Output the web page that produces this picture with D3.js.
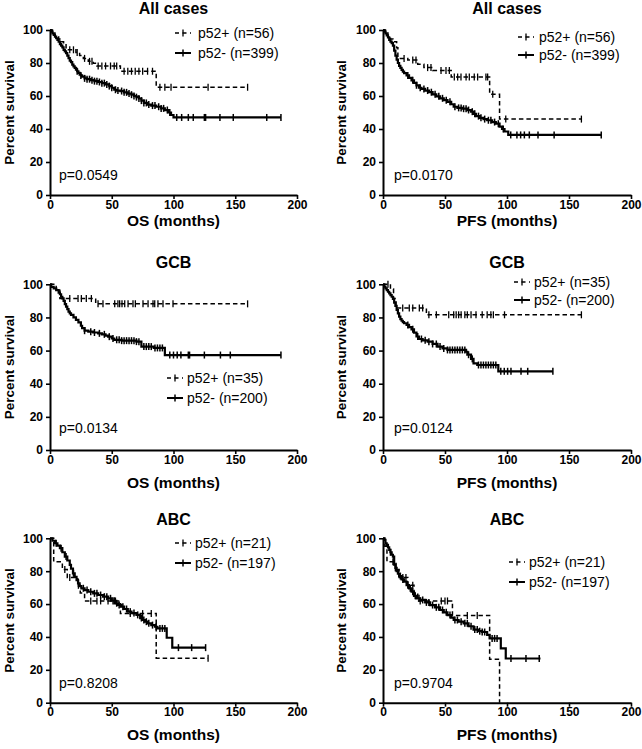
<!DOCTYPE html>
<html><head><meta charset="utf-8">
<script src="https://cdn.jsdelivr.net/npm/d3@7"></script>
<style>
body{margin:0;background:#fff}
text{font-family:"Liberation Sans",Arial,Helvetica,sans-serif;fill:#000}
</style>
</head><body>
<svg id="chart" width="642" height="749"></svg>
<script>
// ---------- DATA ----------
const xTicks = [0, 50, 100, 150, 200];
const yTicks = [0, 20, 40, 60, 80, 100];
const titles = ["All cases", "All cases", "GCB", "GCB", "ABC", "ABC"];
const xLabels = ["OS (months)", "PFS (months)", "OS (months)", "PFS (months)", "OS (months)", "PFS (months)"];
const yLabel = "Percent survival";
const pValues = ["p=0.0549", "p=0.0170", "p=0.0134", "p=0.0124", "p=0.8208", "p=0.9704"];
const legendPos = ["p52+ (n=56)", "p52+ (n=56)", "p52+ (n=35)", "p52+ (n=35)", "p52+ (n=21)", "p52+ (n=21)"];
const legendNeg = ["p52- (n=399)", "p52- (n=399)", "p52- (n=200)", "p52- (n=200)", "p52- (n=197)", "p52- (n=197)"];

// Kaplan-Meier steps [month, percent] ; end = last follow-up ; censored times
const osAllPos = [[0,100],[2,98.2],[4,96.4],[7,94.6],[9,92.9],[11,91.1],[13,89.3],[14,88],[21,86.3],[24,84.6],[27,82.8],[31,81],[35,79.8],[38,78.2],[57,75],[86,65.3]];
const osAllPosEnd = 160;
const osAllPosCens = [16,19,22,28,32,34,39,42,45,49,52,54,60,63,66,69,72,75,79,83,89,93,98,128,160];
const osAllNeg = [[0,100],[1,99],[2,98],[3,97],[4,96],[5,95],[6,94],[7,93],[8,91.5],[9,90.5],[10,89.5],[11,88],[12,87],[13,86],[14,84.5],[15,83],[16,81.5],[17,80.5],[18,79],[19,78],[20,77],[21,76],[22,75],[23,74],[24,73],[25,72.5],[26,71.8],[28,70.7],[30,70.2],[33,69.6],[36,69],[39,68.5],[42,67.8],[45,67],[48,66],[50,65],[52,63.8],[54,63.3],[57,63],[60,62.2],[63,61.5],[66,60.8],[68,60],[70,59.3],[72,58.5],[74,57.2],[76,55.8],[79,54.8],[82,54.2],[86,53.5],[90,52.5],[93,51.5],[96,50],[98,48.5],[100,47]];
const osAllNegEnd = 187;
const osAllNegCens = [22,25,28,30,32,34,36,38,40,42,44,46,48,50,53,55,58,60,62,64,66,68,70,72,74,76,78,80,83,85,88,90,92,95,97,102.6,106.6,112,116,125,126,137.6,148.4,175.5,187];

const pfsAllPos = [[0,100],[2,98.2],[4,96.4],[6,94.6],[8,92.9],[11,89.3],[12,82.8],[20,81.8],[28,79.2],[33,77.2],[40,75.5],[55,71.5],[86,61],[94,46]];
const pfsAllPosEnd = 160;
const pfsAllPosCens = [17,24,26.6,36,38.7,46.8,50.8,53.5,57.5,60.2,62.9,67,69.6,73.6,76.3,83,84.4,88.5,99,160];
const pfsAllNeg = [[0,100],[1,99],[2,98],[3,96.8],[4,95.5],[5,94],[6,93],[7,92],[8,90.5],[9,87.5],[10,84.5],[11,82],[12,80],[13,78.3],[14,77],[15,75.8],[16,74.8],[17,73.9],[19,72.5],[21,71],[23,69.5],[25,68],[27,66.5],[29,65],[31,64.3],[34,63.3],[37,62.3],[40,61],[43,59.8],[46,58.6],[49,57.5],[52,56.5],[55,55],[57,53.5],[60,52.8],[64,52.3],[68,51.5],[71,50.5],[73,49.2],[75,47.8],[78,46.8],[81,46],[84,45.3],[88,44.2],[91,43.2],[94,41.5],[96,40],[98,38.5],[101,36.4]];
const pfsAllNegEnd = 176;
const pfsAllNegCens = [20,24,27,30,33,36,39,42,45,48,51,54,58,61,63,65,67,69,72,74,77,79,82,85,87,90,93,97,103,108,111,114,118,125,138,176];

const osGcbPos = [[0,100],[5,97.1],[8,91.4],[37,88.2]];
const osGcbPosEnd = 160;
const osGcbPosCens = [16,22.7,25.4,29.4,33.5,38.9,42.9,52.4,55,56.4,58.3,60.5,63.2,67.2,69.1,75.3,79.4,83.4,84.8,87.4,91.5,99.6,160];
const osGcbNeg = [[0,100],[1,98.5],[3,97.5],[5,96.5],[7,95],[8,94],[9,92.5],[10,91.5],[11,90],[12,88],[13,86.5],[14,85],[15,83.5],[16,82.5],[17,81.5],[19,80],[21,78.5],[23,77],[25,75],[26,73.5],[28,72],[31,71.4],[35,70.9],[39,70.4],[42,69.8],[45,69],[47,68.4],[50,67.3],[52,66.5],[58,66],[70,65.4],[74,62.4],[84,61.6],[93,57.3]];
const osGcbNegEnd = 187;
const osGcbNegCens = [28,33,36,40,44,48,51,54,56,58,60,62,64,66,68,70,72,76,78,80,82,85,87,89,91,97,100,103,106,112,113,125,138,146,187];

const pfsGcbPos = [[0,100],[6,97.1],[8.5,91.4],[10.5,85.7],[35,81.6]];
const pfsGcbPosEnd = 160;
const pfsGcbPosCens = [4,15.9,21.2,24,29.3,32,37,43,53,57,59,61,63,66,68,71,75,80,84,87,89,98,160];
const pfsGcbNeg = [[0,100],[1,98.6],[2,97.5],[3,96.5],[4,95.5],[5,94.5],[6,93.5],[7,92.5],[8,91.2],[9,89],[10,87],[11,84.5],[12,82.5],[13,80.5],[14,79],[15,78],[16,77.2],[17,76.5],[19,75.5],[21,74.2],[23,72.8],[25,70.8],[27,68.5],[29,67],[32,66.2],[36,65.4],[40,64],[44,62.4],[48,61.3],[52,60.4],[67,59.3],[68,57.5],[71,55],[73,52.3],[76,51.3],[93,47.5]];
const pfsGcbNegEnd = 137;
const pfsGcbNegCens = [20,24,28,31,34,37,40,43,46,49,52,54,56,58,60,62,64,66,69,72,77,79,81,83,85,87,89,91,95,97.8,100.5,103.2,111.3,116.7,137];

const osAbcPos = [[0,100],[3,85.7],[10,81],[14,76.2],[22.5,71.4],[24.5,66.7],[28,61.9],[57,54.2],[86,27.1]];
const osAbcPosEnd = 128;
const osAbcPosCens = [12,16,23,33,38,41,47,51,53,65,75,82,128];
const osAbcNeg = [[0,100],[2,98.5],[4,97],[6,95.5],[8,94],[10,91.5],[12,88.9],[14,86.5],[16,83.8],[17,81.5],[18.6,78.7],[20,76.5],[21.5,74.5],[22.7,72.6],[24,71],[25.4,69.6],[28,68.5],[31,67.5],[35,66.5],[39,65.5],[43,64.5],[47,63.5],[50,62],[52.4,60.5],[55,59.5],[57.7,58.4],[60,57],[63,55.4],[66,54.5],[70,53.4],[73,51.5],[75,50.3],[77,49.3],[79,48.3],[82,47.2],[85,46.2],[87,45.2],[94.5,39.5],[99,33.5]];
const osAbcNegEnd = 126;
const osAbcNegCens = [5,9,13,19,23,27,30,33,36,38,41,44,46,49,52,54,56,59,62,65,68,71,74,76,78,80,83,86,89,91,93,104,114.7,126];

const pfsAbcPos = [[0,100],[1.5,95.2],[3.2,85.7],[10.5,81],[13,76.2],[20,71.4],[25,66.7],[28,61.9],[56,53.1],[86,26.5],[94,0]];
const pfsAbcPosEnd = 94;
const pfsAbcPosCens = [8,16,18.5,24,30,47,50,52,68,76];
const pfsAbcNeg = [[0,100],[1,99],[2,97],[3,96],[4,94.5],[5,92.9],[6,91.5],[7,90],[8,88.9],[9,84],[10,82],[11,80],[12,78.5],[13,77],[15,75],[17,73.6],[19,71.5],[21,69.6],[23,67.5],[25,65],[27,63.5],[30,62.5],[34,61],[38,59.4],[42,58],[46,56.4],[49,55],[52,53.3],[55,51.8],[57,50.3],[61,49.3],[65,48.3],[69,46.5],[73,44.5],[77,43.5],[80,43],[84,41.2],[86,39.1],[95,33],[99,26.9]];
const pfsAbcNegEnd = 127;
const pfsAbcNegCens = [6,10,14,16,20,22,24,26,29,32,35,37,40,43,45,48,51,54,58,60,63,66,68,71,74,76,78,80,82,88,90,92,103.2,115.3,126];

const panelData = [
  {pos: osAllPos, posEnd: osAllPosEnd, posCens: osAllPosCens, neg: osAllNeg, negEnd: osAllNegEnd, negCens: osAllNegCens},
  {pos: pfsAllPos, posEnd: pfsAllPosEnd, posCens: pfsAllPosCens, neg: pfsAllNeg, negEnd: pfsAllNegEnd, negCens: pfsAllNegCens},
  {pos: osGcbPos, posEnd: osGcbPosEnd, posCens: osGcbPosCens, neg: osGcbNeg, negEnd: osGcbNegEnd, negCens: osGcbNegCens},
  {pos: pfsGcbPos, posEnd: pfsGcbPosEnd, posCens: pfsGcbPosCens, neg: pfsGcbNeg, negEnd: pfsGcbNegEnd, negCens: pfsGcbNegCens},
  {pos: osAbcPos, posEnd: osAbcPosEnd, posCens: osAbcPosCens, neg: osAbcNeg, negEnd: osAbcNegEnd, negCens: osAbcNegCens},
  {pos: pfsAbcPos, posEnd: pfsAbcPosEnd, posCens: pfsAbcPosCens, neg: pfsAbcNeg, negEnd: pfsAbcNegEnd, negCens: pfsAbcNegCens}
];

// ---------- LAYOUT ----------
const layout = [
  {x0:50, x1:297, yb:195, yt:30, title:14, xl:226, yl:14, px:59, py:180, lx:175, tx:198, l1:33, l2:53},
  {x0:383, x1:631, yb:195, yt:30, title:14, xl:226, yl:346, px:394, py:180, lx:518, tx:539, l1:37, l2:55},
  {x0:50, x1:297, yb:450, yt:284.3, title:268, xl:488, yl:14, px:59, py:433, lx:167, tx:187, l1:378, l2:398},
  {x0:383, x1:631, yb:450, yt:284.3, title:268, xl:488, yl:346, px:394, py:433, lx:514, tx:534, l1:282, l2:300},
  {x0:50, x1:297, yb:702.7, yt:538.3, title:525, xl:740, yl:14, px:59, py:688, lx:175, tx:195, l1:543, l2:563},
  {x0:383, x1:631, yb:702.7, yt:538.3, title:525, xl:740, yl:346, px:394, py:688, lx:509, tx:529, l1:562, l2:582}
];

const svg = d3.select("#chart");
const DASH = "4.5,3";

function survAt(steps, t) {
  let s = steps[0][1];
  for (const p of steps) { if (p[0] <= t) s = p[1]; else break; }
  return s;
}

layout.forEach((L, i) => {
  const D = panelData[i];
  const x = d3.scaleLinear().domain([0, 200]).range([L.x0, L.x1]);
  const y = d3.scaleLinear().domain([0, 100]).range([L.yb, L.yt]);
  const g = svg.append("g");

  // axes
  const xa = g.append("g").attr("transform", `translate(0,${L.yb})`)
    .call(d3.axisBottom(x).tickValues(xTicks).tickSize(4).tickSizeOuter(0).tickPadding(1));
  const ya = g.append("g").attr("transform", `translate(${L.x0},0)`)
    .call(d3.axisLeft(y).tickValues(yTicks).tickSize(4).tickSizeOuter(0).tickPadding(3));
  [xa, ya].forEach(a => {
    a.select(".domain").attr("stroke", "#000").attr("stroke-width", 2);
    a.selectAll(".tick line").attr("stroke", "#000").attr("stroke-width", 1.6);
    a.selectAll(".tick text").style("font-family", '"Liberation Sans",Arial,sans-serif')
      .style("font-size", "12px").style("font-weight", "bold").attr("fill", "#000");
  });

  // curves
  const line = d3.line().x(d => x(d[0])).y(d => y(d[1])).curve(d3.curveStepAfter);
  const negPts = D.neg.concat([[D.negEnd, D.neg[D.neg.length - 1][1]]]);
  const posPts = D.pos.concat([[D.posEnd, D.pos[D.pos.length - 1][1]]]);
  g.append("path").attr("d", line(negPts)).attr("fill", "none").attr("stroke", "#000").attr("stroke-width", 2.2);
  g.append("path").attr("d", line(posPts)).attr("fill", "none").attr("stroke", "#000")
    .attr("stroke-width", 1.5).attr("stroke-dasharray", DASH);

  // censor marks
  g.selectAll(".cn").data(D.negCens).enter().append("line")
    .attr("x1", d => x(d)).attr("x2", d => x(d))
    .attr("y1", d => y(survAt(D.neg, d)) - 3.5).attr("y2", d => y(survAt(D.neg, d)) + 3.5)
    .attr("stroke", "#000").attr("stroke-width", 1.5);
  g.selectAll(".cp").data(D.posCens).enter().append("line")
    .attr("x1", d => x(d)).attr("x2", d => x(d))
    .attr("y1", d => y(survAt(D.pos, d)) - 3.5).attr("y2", d => y(survAt(D.pos, d)) + 3.5)
    .attr("stroke", "#000").attr("stroke-width", 1.3);

  // titles and labels
  g.append("text").attr("x", (L.x0 + L.x1) / 2).attr("y", L.title).attr("text-anchor", "middle")
    .style("font-size", "16px").style("font-weight", "bold").text(titles[i]);
  g.append("text").attr("x", (L.x0 + L.x1) / 2).attr("y", L.xl).attr("text-anchor", "middle")
    .style("font-size", "15.5px").style("font-weight", "bold").text(xLabels[i]);
  g.append("text").attr("transform", `translate(${L.yl},${(L.yb + L.yt) / 2}) rotate(-90)`)
    .attr("text-anchor", "middle").style("font-size", "13.5px").style("font-weight", "bold").text(yLabel);
  g.append("text").attr("x", L.px).attr("y", L.py).style("font-size", "14px").text(pValues[i]);

  // legend
  const lw = 16;
  g.append("line").attr("x1", L.lx).attr("x2", L.lx + lw).attr("y1", L.l1).attr("y2", L.l1)
    .attr("stroke", "#000").attr("stroke-width", 1.5).attr("stroke-dasharray", "4,3.5");
  g.append("line").attr("x1", L.lx + lw / 2).attr("x2", L.lx + lw / 2).attr("y1", L.l1 - 3.5).attr("y2", L.l1 + 3.5)
    .attr("stroke", "#000").attr("stroke-width", 1.3);
  g.append("line").attr("x1", L.lx).attr("x2", L.lx + lw).attr("y1", L.l2).attr("y2", L.l2)
    .attr("stroke", "#000").attr("stroke-width", 2);
  g.append("line").attr("x1", L.lx + lw / 2).attr("x2", L.lx + lw / 2).attr("y1", L.l2 - 3.5).attr("y2", L.l2 + 3.5)
    .attr("stroke", "#000").attr("stroke-width", 1.5);
  g.append("text").attr("x", L.tx).attr("y", L.l1 + 5).style("font-size", "14px").text(legendPos[i]);
  g.append("text").attr("x", L.tx).attr("y", L.l2 + 5).style("font-size", "14px").text(legendNeg[i]);
});
</script>
</body></html>
